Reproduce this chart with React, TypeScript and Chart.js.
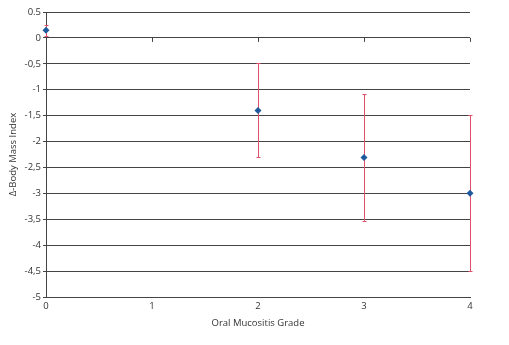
import React, { useEffect, useRef } from "react";
import { Chart, registerables } from "chart.js";

Chart.register(...registerables);

const grades = [0, 2, 3, 4];
const meanBMI = [0.15, -1.4, -2.31, -3.0];
const errLow = [0.03, -2.3, -3.53, -4.5];
const errHigh = [0.25, -0.49, -1.09, -1.49];
const xTicks = [0, 1, 2, 3, 4];
const yMin = -5;
const yMax = 0.5;

const FONT = "'Open Sans', 'DejaVu Sans', sans-serif";

const errorBarPlugin = {
  id: "errorBars",
  beforeDatasetsDraw(chart: any) {
    const { ctx, scales } = chart;
    const xs = scales.x;
    const ys = scales.y;
    ctx.save();
    const y0 = ys.getPixelForValue(0);
    ctx.strokeStyle = "#444444";
    ctx.lineWidth = 1;
    xTicks.forEach((t) => {
      const px = Math.round(xs.getPixelForValue(t)) + 0.5;
      ctx.beginPath();
      ctx.moveTo(px, y0);
      ctx.lineTo(px, y0 + 4);
      ctx.stroke();
    });
    ctx.strokeStyle = "#e0506a";
    ctx.lineWidth = 1;
    grades.forEach((g, i) => {
      const px = Math.round(xs.getPixelForValue(g)) + 0.5;
      const top = ys.getPixelForValue(errHigh[i]);
      const bot = ys.getPixelForValue(errLow[i]);
      ctx.beginPath();
      ctx.moveTo(px, top);
      ctx.lineTo(px, bot);
      ctx.moveTo(px - 2, Math.round(top) + 0.5);
      ctx.lineTo(px + 2, Math.round(top) + 0.5);
      ctx.moveTo(px - 2, Math.round(bot) + 0.5);
      ctx.lineTo(px + 2, Math.round(bot) + 0.5);
      ctx.stroke();
    });
    ctx.restore();
  },
};

export default function App() {
  const ref = useRef<HTMLCanvasElement | null>(null);
  useEffect(() => {
    if (!ref.current) return;
    const chart = new Chart(ref.current, {
      type: "scatter",
      data: {
        datasets: [
          {
            data: grades.map((g, i) => ({ x: g, y: meanBMI[i] })),
            backgroundColor: "#1f5a9e",
            borderColor: "#1f5a9e",
            pointStyle: "rectRot",
            pointRadius: 3.5,
            borderWidth: 0,
            clip: false as any,
          },
        ],
      },
      options: {
        animation: false,
        responsive: false,
        maintainAspectRatio: false,
        layout: { padding: { left: 0, top: 12, right: 39, bottom: 16 } },
        plugins: {
          legend: { display: false },
          tooltip: { enabled: false },
        },
        scales: {
          x: {
            type: "linear",
            min: 0,
            max: 4,
            afterBuildTicks: (scale: any) => {
              scale.ticks = xTicks.map((v) => ({ value: v }));
            },
            afterFit: (scale: any) => {
              scale.height = 32;
            },
            grid: { display: false, drawTicks: false },
            border: { display: true, color: "#444444", width: 1 },
            ticks: {
              color: "#333333",
              font: { family: FONT, size: 9.5 },
              padding: 4,
              maxRotation: 0,
            },
            title: {
              display: true,
              text: "Oral Mucositis Grade",
              color: "#333333",
              font: { family: FONT, size: 9.5 },
              padding: { top: 1, bottom: 0 },
            },
          },
          y: {
            type: "linear",
            min: yMin,
            max: yMax,
            afterFit: (scale: any) => {
              scale.width = 46;
            },
            ticks: {
              stepSize: 0.5,
              color: "#333333",
              font: { family: FONT, size: 9.5 },
              padding: 2,
              callback: (v: any) => {
                const n = Number(v);
                if (n === 0.5) return "0.5";
                return String(n).replace(".", ",");
              },
            },
            grid: {
              color: "#444444",
              lineWidth: 1,
              tickLength: 3,
              drawTicks: true,
            },
            border: { display: true, color: "#444444", width: 1 },
            title: {
              display: true,
              text: "Δ-Body Mass Index",
              color: "#333333",
              font: { family: FONT, size: 9.5 },
              padding: { top: 8, bottom: 0 },
            },
          },
        },
      },
      plugins: [errorBarPlugin],
    });
    return () => chart.destroy();
  }, []);
  return (
    <div style={{ position: "fixed", left: 0, top: 0, width: 509, height: 345, background: "#ffffff" }}>
      <canvas ref={ref} width={509} height={345} style={{ width: 509, height: 345 }} />
    </div>
  );
}
